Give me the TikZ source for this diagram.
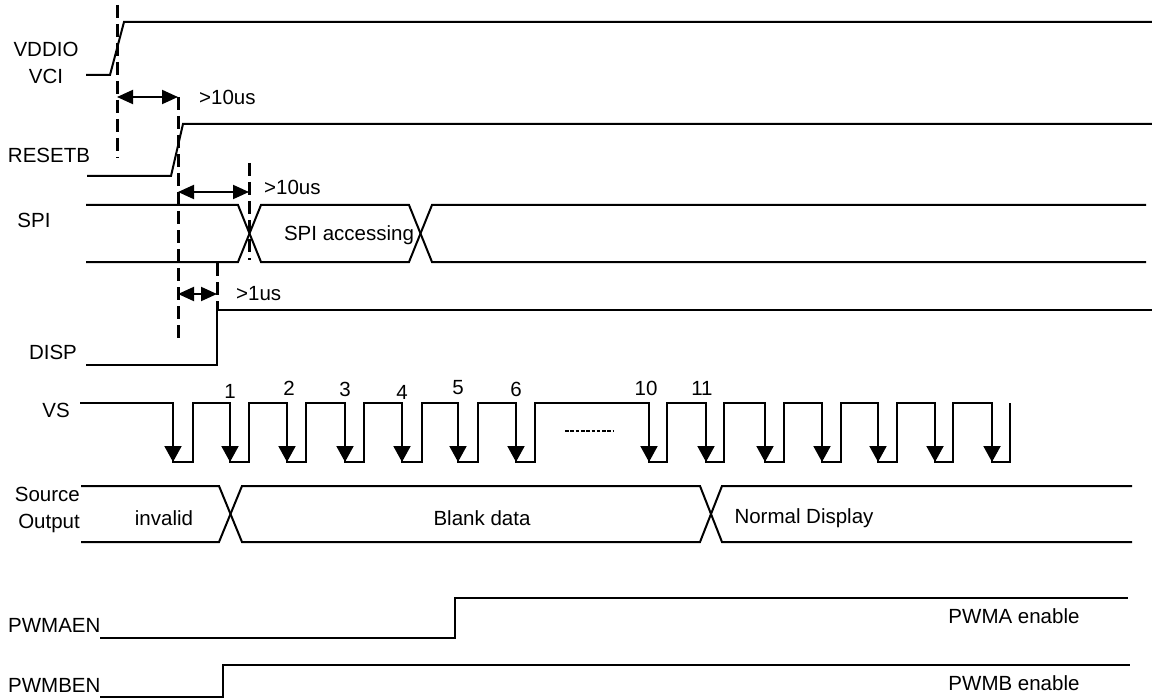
\documentclass[tikz,border=0pt]{standalone}
\usepackage{fontspec}
\setmainfont{Liberation Sans}
\usetikzlibrary{arrows.meta}
\begin{document}
\begin{tikzpicture}[x=1pt,y=-1pt,
  sig/.style={line width=2pt, line join=miter},
  guide/.style={line width=3pt, dash pattern=on 13pt off 6pt},
  dimline/.style={line width=2pt, {Triangle[length=16pt,width=14pt]}-{Triangle[length=16pt,width=14pt]}},
  vsarrow/.style={line width=2pt, -{Triangle[length=16pt,width=17pt]}},
  lbl/.style={font=\fontsize{20.5}{27}\selectfont, inner sep=0pt},
  num/.style={font=\fontsize{20.5}{24}\selectfont, inner sep=0pt}]
\useasboundingbox (0,0) rectangle (1152,698);

% labels
\node[lbl, align=center] (lvdd) at (46,63) {VDDIO\\VCI};
\node[lbl] (lrst) at (49,155) {RESETB};
\node[lbl] (lspi) at (34,220) {SPI};
\node[lbl] (ldisp) at (53,352) {DISP};
\node[lbl] (lvs) at (56,410) {VS};
\node[lbl, align=right, anchor=east] (lsrc) at (80,510) {Source\\Output};
\node[lbl, anchor=west] (lpa) at (8,625) {PWMAEN};
\node[lbl, anchor=west] (lpb) at (8,685) {PWMBEN};

% VDDIO / VCI
\draw[sig] (86,75) -- (110,75) -- (124,22) -- (1152,22);
% RESETB
\draw[sig] (87,176) -- (171,176) -- (183,124) -- (1152,124);
% SPI bus
\draw[sig] (86,205) -- (238,205) -- (261,262) -- (409,262) -- (432,205) -- (1146,205);
\draw[sig] (86,262) -- (238,262) -- (261,205) -- (409,205) -- (432,262) -- (1146,262);
\node[lbl] (tspi) at (349,235) {SPI accessing};
% DISP
\draw[sig] (86,365) -- (217,365) -- (217,310) -- (1152,310);

% guides
\draw[guide] (117,5) -- (117,158);
\draw[guide] (178,97) -- (178,342);
\draw[guide] (249,163) -- (249,260);
\draw[guide] (217,263) -- (217,310);

% dimension arrows
\coordinate (a1l) at (117,97); \coordinate (a1r) at (178,97);
\coordinate (a2l) at (178,192); \coordinate (a2r) at (249,192);
\coordinate (a3l) at (178,294); \coordinate (a3r) at (217,294);
\draw[dimline] (a1l) -- (a1r);
\draw[dimline] (a2l) -- (a2r);
\draw[dimline] (a3l) -- (a3r);
\node[lbl, anchor=west] (t1) at (199,97) {>10us};
\node[lbl, anchor=west] (t2) at (264,187) {>10us};
\node[lbl, anchor=west] (t3) at (236,294) {>1us};

% VS
\draw[sig] (80,403) -- (173,403) -- (173,462) -- (193,462) -- (193,403)
  -- (230,403) -- (230,462) -- (249,462) -- (249,403)
  -- (287,403) -- (287,462) -- (306,462) -- (306,403)
  -- (345,403) -- (345,462) -- (364,462) -- (364,403)
  -- (402,403) -- (402,462) -- (422,462) -- (422,403)
  -- (458,403) -- (458,462) -- (478,462) -- (478,403)
  -- (516,403) -- (516,462) -- (535,462) -- (535,403)
  -- (649,403) -- (649,462) -- (667,462) -- (667,403)
  -- (706,403) -- (706,462) -- (724,462) -- (724,403)
  -- (765,403) -- (765,462) -- (784,462) -- (784,403)
  -- (822,403) -- (822,462) -- (841,462) -- (841,403)
  -- (878,403) -- (878,462) -- (897,462) -- (897,403)
  -- (935,403) -- (935,462) -- (953,462) -- (953,403)
  -- (992,403) -- (992,462) -- (1010,462) -- (1010,403);
\foreach \x in {173,230,287,345,402,458,516,649,706,765,822,878,935,992}
  \draw[vsarrow] (\x,420) -- (\x,462);
\draw[line width=2pt, dash pattern=on 3.6pt off 1.7pt] (565,431) -- (613,431);
\node[num] (n1) at (230,391) {1};
\node[num] (n2) at (289,388) {2};
\node[num] (n3) at (345,389) {3};
\node[num] (n4) at (402,392) {4};
\node[num] (n5) at (458,388) {5};
\node[num] (n6) at (516,389) {6};
\node[num] (n10) at (646,388) {10};
\node[num] (n11) at (702,388) {11};

% Source Output bus
\draw[sig] (81,486) -- (219,486) -- (242,542) -- (700,542) -- (722,486) -- (1132,486);
\draw[sig] (81,542) -- (219,542) -- (242,486) -- (700,486) -- (722,542) -- (1132,542);
\node[lbl] (tinv) at (164,518) {invalid};
\node[lbl] (tblank) at (482,518) {Blank data};
\node[lbl] (tnorm) at (804,518) {Normal Display};

% PWM
\draw[sig] (100,638) -- (455,638) -- (455,598) -- (1128,598);
\draw[sig] (100,697) -- (223,697) -- (223,665) -- (1130,665);
\node[lbl] (tpa) at (1014,616) {PWMA enable};
\node[lbl] (tpb) at (1014,683) {PWMB enable};
\end{tikzpicture}
\end{document}
